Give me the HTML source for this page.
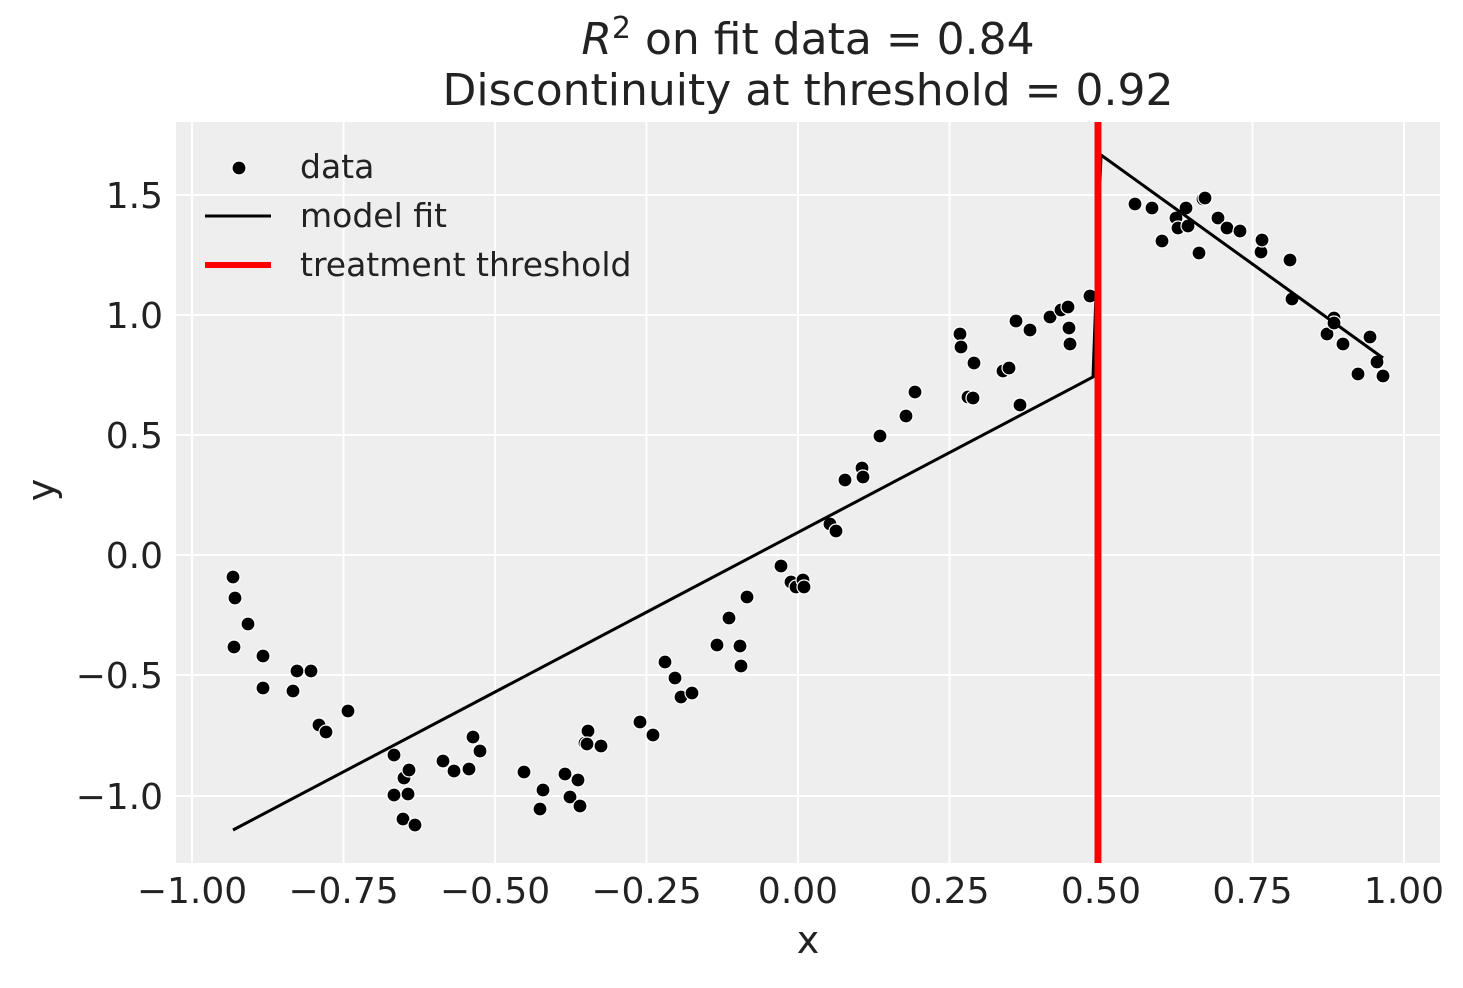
<!DOCTYPE html>
<html><head><meta charset="utf-8"><style>
html,body{margin:0;padding:0;background:#fff;}
svg text{font-family:"DejaVu Sans","Liberation Sans",sans-serif;fill:#222;}
</style></head><body>
<svg width="1463" height="983" viewBox="0 0 1463 983" xmlns="http://www.w3.org/2000/svg">
<rect x="176" y="122" width="1264" height="741" fill="#eeeeee"/>
<g stroke="#fff" stroke-width="2">
<line x1="192" y1="122" x2="192" y2="863"/><line x1="343.5" y1="122" x2="343.5" y2="863"/>
<line x1="495" y1="122" x2="495" y2="863"/><line x1="646.5" y1="122" x2="646.5" y2="863"/>
<line x1="798" y1="122" x2="798" y2="863"/><line x1="949.5" y1="122" x2="949.5" y2="863"/>
<line x1="1101" y1="122" x2="1101" y2="863"/><line x1="1252.5" y1="122" x2="1252.5" y2="863"/>
<line x1="1404" y1="122" x2="1404" y2="863"/>
<line x1="176" y1="195" x2="1440" y2="195"/><line x1="176" y1="315" x2="1440" y2="315"/>
<line x1="176" y1="435" x2="1440" y2="435"/><line x1="176" y1="555" x2="1440" y2="555"/>
<line x1="176" y1="675" x2="1440" y2="675"/><line x1="176" y1="796" x2="1440" y2="796"/>
</g>
<g fill="#000" stroke="#fff" stroke-width="1.2">
<circle cx="233" cy="577" r="7"/><circle cx="235" cy="598" r="7"/><circle cx="234" cy="647" r="7"/><circle cx="248" cy="624" r="7"/><circle cx="263" cy="656" r="7"/><circle cx="263" cy="688" r="7"/><circle cx="293" cy="691" r="7"/><circle cx="297" cy="671" r="7"/><circle cx="311" cy="671" r="7"/><circle cx="319" cy="725" r="7"/><circle cx="326" cy="732" r="7"/><circle cx="348" cy="711" r="7"/><circle cx="394" cy="755" r="7"/><circle cx="394" cy="795" r="7"/><circle cx="403" cy="819" r="7"/><circle cx="404" cy="778" r="7"/><circle cx="408" cy="794" r="7"/><circle cx="409" cy="770" r="7"/><circle cx="415" cy="825" r="7"/><circle cx="443" cy="761" r="7"/><circle cx="454" cy="771" r="7"/><circle cx="469" cy="769" r="7"/><circle cx="473" cy="737" r="7"/><circle cx="480" cy="751" r="7"/><circle cx="524" cy="772" r="7"/><circle cx="540" cy="809" r="7"/><circle cx="543" cy="790" r="7"/><circle cx="565" cy="774" r="7"/><circle cx="570" cy="797" r="7"/><circle cx="578" cy="780" r="7"/><circle cx="580" cy="806" r="7"/><circle cx="585" cy="743" r="7"/><circle cx="588" cy="731" r="7"/><circle cx="587" cy="744" r="7"/><circle cx="601" cy="746" r="7"/><circle cx="640" cy="722" r="7"/><circle cx="653" cy="735" r="7"/><circle cx="665" cy="662" r="7"/><circle cx="675" cy="678" r="7"/><circle cx="681" cy="697" r="7"/><circle cx="692" cy="693" r="7"/><circle cx="717" cy="645" r="7"/><circle cx="729" cy="618" r="7"/><circle cx="740" cy="646" r="7"/><circle cx="741" cy="666" r="7"/><circle cx="747" cy="597" r="7"/><circle cx="781" cy="566" r="7"/><circle cx="791" cy="582" r="7"/><circle cx="796" cy="587" r="7"/><circle cx="803" cy="580" r="7"/><circle cx="804" cy="587" r="7"/><circle cx="830" cy="524" r="7"/><circle cx="836" cy="531" r="7"/><circle cx="845" cy="480" r="7"/><circle cx="862" cy="468" r="7"/><circle cx="863" cy="477" r="7"/><circle cx="880" cy="436" r="7"/><circle cx="906" cy="416" r="7"/><circle cx="915" cy="392" r="7"/><circle cx="960" cy="334" r="7"/><circle cx="961" cy="347" r="7"/><circle cx="968" cy="397" r="7"/><circle cx="973" cy="398" r="7"/><circle cx="974" cy="363" r="7"/><circle cx="1003" cy="371" r="7"/><circle cx="1009" cy="368" r="7"/><circle cx="1016" cy="321" r="7"/><circle cx="1020" cy="405" r="7"/><circle cx="1030" cy="330" r="7"/><circle cx="1050" cy="317" r="7"/><circle cx="1061" cy="310" r="7"/><circle cx="1068" cy="307" r="7"/><circle cx="1069" cy="328" r="7"/><circle cx="1070" cy="344" r="7"/><circle cx="1090" cy="296" r="7"/>
<circle cx="1135" cy="204" r="7"/><circle cx="1152" cy="208" r="7"/><circle cx="1162" cy="241" r="7"/><circle cx="1176" cy="218" r="7"/><circle cx="1178" cy="228" r="7"/><circle cx="1186" cy="208" r="7"/><circle cx="1188" cy="226" r="7"/><circle cx="1199" cy="253" r="7"/><circle cx="1203" cy="199" r="7"/><circle cx="1205" cy="198" r="7"/><circle cx="1218" cy="218" r="7"/><circle cx="1227" cy="228" r="7"/><circle cx="1240" cy="231" r="7"/><circle cx="1261" cy="252" r="7"/><circle cx="1262" cy="240" r="7"/><circle cx="1290" cy="260" r="7"/><circle cx="1292" cy="299" r="7"/><circle cx="1327" cy="334" r="7"/><circle cx="1334" cy="318" r="7"/><circle cx="1334" cy="323" r="7"/><circle cx="1343" cy="344" r="7"/><circle cx="1358" cy="374" r="7"/><circle cx="1370" cy="337" r="7"/><circle cx="1377" cy="362" r="7"/><circle cx="1383" cy="376" r="7"/>
</g>
<polyline points="233,830 1093,377 1101,155 1383,358" fill="none" stroke="#000" stroke-width="3"/>
<line x1="1098" y1="122" x2="1098" y2="863" stroke="#ff0000" stroke-width="7"/>
<g font-size="36" text-anchor="middle">
<text x="192" y="903">−1.00</text><text x="343.5" y="903">−0.75</text><text x="495" y="903">−0.50</text><text x="646.5" y="903">−0.25</text><text x="798" y="903">0.00</text><text x="949.5" y="903">0.25</text><text x="1101" y="903">0.50</text><text x="1252.5" y="903">0.75</text><text x="1404" y="903">1.00</text>
</g>
<g font-size="36" text-anchor="end">
<text x="163" y="208">1.5</text><text x="163" y="328">1.0</text><text x="163" y="448">0.5</text><text x="163" y="568">0.0</text><text x="163" y="688">−0.5</text><text x="163" y="809">−1.0</text>
</g>
<text x="808" y="953" font-size="38" text-anchor="middle">x</text>
<text transform="translate(54,490) rotate(-90)" font-size="38" text-anchor="middle">y</text>
<text x="808" y="54" font-size="44" text-anchor="middle"><tspan font-style="italic">R</tspan><tspan font-size="30" dy="-16">2</tspan><tspan dy="16"> on fit data = 0.84</tspan></text>
<text x="808" y="105" font-size="44" text-anchor="middle">Discontinuity at threshold = 0.92</text>
<circle cx="239" cy="168" r="7" fill="#000" stroke="#fff" stroke-width="1.2"/>
<line x1="205" y1="216" x2="271" y2="216" stroke="#000" stroke-width="3"/>
<line x1="205" y1="265" x2="271" y2="265" stroke="#ff0000" stroke-width="6"/>
<g font-size="33">
<text x="300" y="178">data</text><text x="300" y="227">model fit</text><text x="300" y="276">treatment threshold</text>
</g>
</svg>
</body></html>
